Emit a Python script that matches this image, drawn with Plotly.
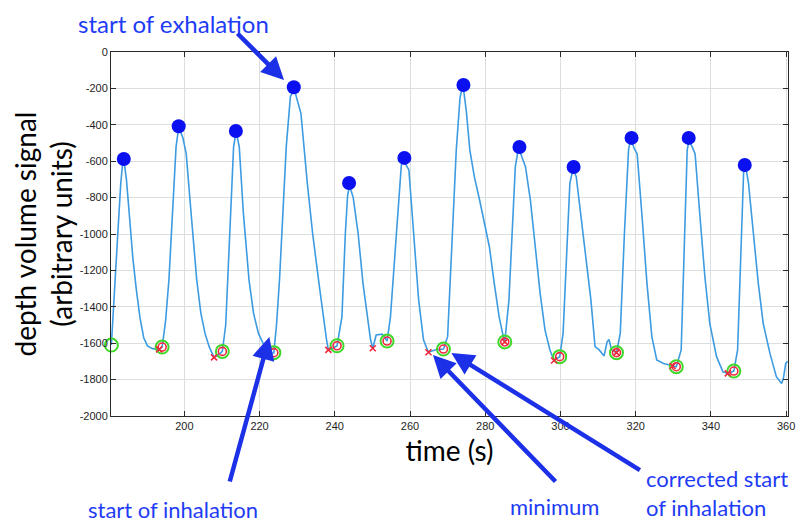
import plotly.graph_objects as go

# ---- depth volume signal ----
signal_t = [
    180.6, 181.4, 182.3, 183.1, 183.6, 184.1, 184.6, 185.4, 186.3, 187.2, 188.2, 189.2, 190.2, 191.5, 193.3, 194.1,
    195.0, 195.9, 196.8, 197.8, 198.4, 199.0, 199.6, 200.5, 201.8, 203.3, 204.4, 205.5, 206.6, 207.9, 209.0, 210.1,
    211.0, 211.5, 212.2, 213.1, 213.6, 214.0, 214.6, 215.7, 217.2, 218.4, 219.7, 221.4, 222.4, 223.8,
    224.5, 225.3, 226.2, 227.1, 228.2, 228.9, 229.5, 231.0, 232.7, 234.1, 235.8, 237.1, 237.8, 238.3, 239.5, 240.6,
    241.1, 241.9, 242.8, 243.4, 243.8, 244.3, 244.9, 246.2, 247.5, 248.8, 249.5, 250.1, 250.6, 251.0, 252.6, 253.9,
    254.8, 255.8, 256.8, 257.7, 258.2, 258.7, 259.7, 261.0, 262.3, 263.6, 264.9, 266.6, 268.9,
    270.0, 271.0, 272.3, 273.3, 273.8, 274.3, 275.0, 275.9, 277.1, 278.5, 279.8, 281.1, 282.4, 283.7, 285.0, 285.2,
    286.3, 287.2, 288.0, 288.7, 289.2, 289.8, 290.7, 292.0, 293.3, 294.6, 295.9, 297.2, 298.3, 299.8,
    300.7, 301.5, 302.5, 303.2, 303.7, 304.2, 305.5, 306.8, 308.1, 309.2, 310.3, 311.6, 312.4, 312.9, 313.6, 314.9,
    315.9, 317.0, 318.1, 318.5, 319.0, 319.6, 320.4, 321.7, 323.0, 324.3, 325.6, 327.4, 329.1, 330.8,
    332.1, 332.9, 333.7, 334.1, 334.5, 335.0, 335.8, 337.1, 338.4, 339.7, 341.5, 343.2, 344.5, 346.1,
    347.1, 347.9, 348.7, 349.1, 349.5, 350.0, 351.3, 352.6, 353.9, 355.7, 357.4, 358.4, 358.8, 359.3, 359.9, 360.4,
]
signal_v = [
    -1610, -1300, -1000, -720, -610, -620, -700, -900, -1130, -1300, -1460, -1570, -1615, -1630, -1634, -1621,
    -1480, -1253, -887, -520, -430, -440, -470, -560, -887, -1253, -1436, -1546, -1619, -1678, -1665, -1645,
    -1500, -1253, -887, -520, -458, -462, -520, -887, -1253, -1436, -1546, -1619, -1665, -1652,
    -1500, -1253, -887, -520, -245, -218, -225, -337, -722, -996, -1271, -1491, -1580, -1637, -1628, -1614,
    -1560, -1455, -1000, -790, -745, -760, -800, -996, -1271, -1491, -1580, -1628, -1590, -1555, -1550, -1588,
    -1455, -1150, -850, -620, -600, -610, -648, -996, -1363, -1583, -1650, -1637, -1632,
    -1564, -1100, -538, -250, -205, -215, -330, -538, -685, -813, -941, -1070, -1271, -1455, -1583, -1593,
    -1363, -1000, -630, -545, -545, -580, -630, -813, -1088, -1326, -1528, -1637, -1695, -1674,
    -1546, -1150, -722, -655, -660, -685, -905, -1125, -1363, -1619, -1637, -1670, -1592, -1579, -1637, -1652,
    -1546, -1000, -538, -495, -495, -530, -560, -905, -1271, -1564, -1692, -1711, -1720, -1729,
    -1637, -1100, -538, -495, -500, -520, -560, -905, -1235, -1491, -1674, -1757, -1766, -1753,
    -1637, -1150, -660, -645, -660, -722, -996, -1271, -1491, -1656, -1784, -1815, -1821, -1790, -1711, -1700,
]

# start of exhalation (peaks)
peak_t = [183.9, 198.5, 213.7, 229.1, 243.8, 258.5, 274.2, 289.1, 303.5, 318.9, 334.1, 349.0]
peak_v = [-588, -408, -434, -194, -720, -582, -181, -522, -632, -472, -472, -621]

# corrected start of inhalation (green circles)
corr_t = [180.6, 194.1, 210.1, 223.8, 240.6, 253.9, 268.9, 285.2, 299.8, 314.9, 330.8, 346.1]
corr_v = [-1610, -1621, -1645, -1652, -1614, -1588, -1632, -1593, -1674, -1652, -1729, -1753]

# start of inhalation (red circles)
inh_t = [194.1, 210.1, 223.8, 240.6, 253.9, 268.9, 285.2, 299.8, 314.9, 330.8, 346.1, 360.6]
inh_v = [-1621, -1645, -1652, -1614, -1588, -1632, -1593, -1674, -1652, -1729, -1753, -1703]

# minimum (red crosses)
min_t = [193.3, 207.9, 222.4, 238.3, 250.1, 264.9, 285.2, 298.3, 314.9, 329.8, 344.5]
min_v = [-1634, -1678, -1665, -1637, -1628, -1650, -1593, -1695, -1652, -1725, -1766]

x_ticks = [200, 220, 240, 260, 280, 300, 320, 340, 360]
x_labels = ["200", "220", "240", "260", "280", "300", "320", "340", "360"]
y_ticks = [0, -200, -400, -600, -800, -1000, -1200, -1400, -1600, -1800, -2000]
y_labels = ["0", "-200", "-400", "-600", "-800", "-1000", "-1200", "-1400", "-1600", "-1800", "-2000"]

BLUE_TXT = "#1e3cf5"
BLUE_ARR = "#1c30e8"
LABEL_FONT = "Lato, 'Open Sans', sans-serif"

fig = go.Figure()
fig.add_trace(go.Scatter(x=signal_t, y=signal_v, mode="lines",
                         line=dict(color="#3d9be2", width=1.6), hoverinfo="skip"))
fig.add_trace(go.Scatter(x=corr_t, y=corr_v, mode="markers", cliponaxis=False,
                         marker=dict(symbol="circle-open", size=13, color="#3fd82a",
                                     line=dict(width=2, color="#3fd82a"))))
fig.add_trace(go.Scatter(x=inh_t, y=inh_v, mode="markers", cliponaxis=False,
                         marker=dict(symbol="circle-open", size=8, color="#f0283c",
                                     line=dict(width=1.6, color="#f0283c"))))
fig.add_trace(go.Scatter(x=min_t, y=min_v, mode="markers", cliponaxis=False,
                         marker=dict(symbol="x-thin", size=6, color="#f0283c",
                                     line=dict(width=1.6, color="#f0283c"))))
fig.add_trace(go.Scatter(x=peak_t, y=peak_v, mode="markers", cliponaxis=False,
                         marker=dict(symbol="circle", size=14, color="#0a10f0")))

axis_common = dict(showgrid=True, gridcolor="#dcdfe0", gridwidth=1,
                   showline=True, linecolor="#2a2a2a", linewidth=1, mirror="ticks",
                   ticks="inside", ticklen=5, tickcolor="#2a2a2a", zeroline=False,
                   tickfont=dict(family="Liberation Sans, Arial, sans-serif", size=11, color="#1e1e1e"))

# the page adds an 8px body margin, so the figure is 8px smaller than the window
fig.update_layout(
    width=797, height=514,
    margin=dict(l=99, r=10, t=44, b=106),
    paper_bgcolor="white", plot_bgcolor="white",
    showlegend=False,
    xaxis=dict(range=[180.5, 360.5], tickvals=x_ticks, ticktext=x_labels,
               title=dict(text="time (s)", standoff=10,
                          font=dict(family=LABEL_FONT, size=28, color="black")),
               **axis_common),
    yaxis=dict(range=[-2000, 0], tickvals=y_ticks, ticktext=y_labels,
               title=dict(text="depth volume signal<br>(arbitrary units)", standoff=6,
                          font=dict(family=LABEL_FONT, size=28, color="black")),
               **axis_common),
)

# arrows (head at a data point, tail offset in pixels)
arrows = [
    (226.5, -154, -48, -48),
    (222.6, -1566, -40, 146),
    (266.1, -1665, 124, 128),
    (271.0, -1654, 190, 118),
]
for hx, hy, ax, ay in arrows:
    fig.add_annotation(x=hx, y=hy, xref="x", yref="y", ax=ax, ay=ay, text="",
                       showarrow=True, arrowhead=2, arrowsize=1, arrowwidth=4.5,
                       arrowcolor=BLUE_ARR, standoff=0, startstandoff=0)

texts = [
    ("start of exhalation", 0.0916, 1.1209, "center", "top", 24),
    ("start of inhalation", 0.0916, -0.2582, "center", "middle", 22),
    ("minimum", 0.6555, -0.2473, "center", "middle", 22),
    ("corrected start<br>of inhalation", 0.7892, -0.2129, "left", "middle", 22),
]
for txt, xp, yp, anchor, yanchor, size in texts:
    fig.add_annotation(x=xp, y=yp, xref="paper", yref="paper", text=txt, showarrow=False,
                       xanchor=anchor, yanchor=yanchor, align="left", borderpad=0,
                       font=dict(family=LABEL_FONT, size=size, color=BLUE_TXT))

fig.write_html("out.html")
